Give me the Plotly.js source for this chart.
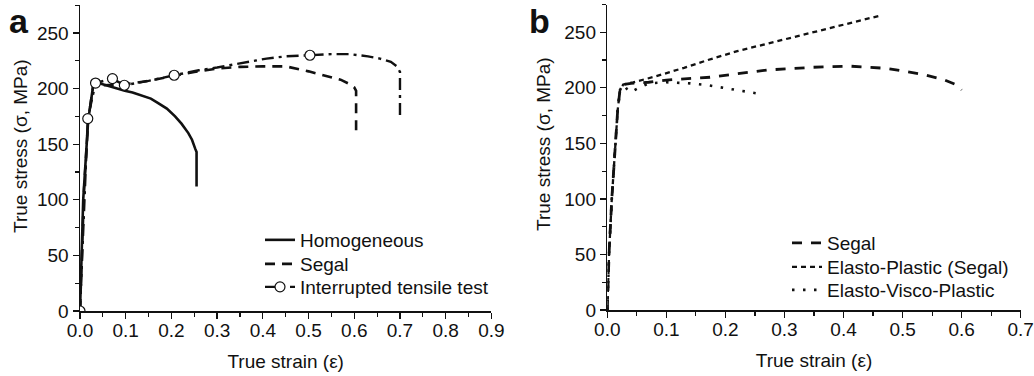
<!DOCTYPE html>
<html><head><meta charset="utf-8">
<script src="https://cdn.plot.ly/plotly-3.0.1.min.js"></script>
<style>html,body{margin:0;padding:0;background:#fff}#chart{width:1034px;height:376px}</style>
</head><body><div id="chart"></div>
<script>
// ---------- Panel a ----------
const homogStrain = [0, 0.007, 0.018, 0.029, 0.033, 0.05, 0.062, 0.08, 0.098, 0.115, 0.135, 0.155, 0.171, 0.19, 0.208, 0.222, 0.237, 0.245, 0.252, 0.255, 0.255];
const homogStress = [0, 100, 172, 203, 206, 204, 202, 200, 198, 196.5, 194, 191, 187, 182, 175, 168.5, 160, 154, 146, 143, 112];

const segalAStrain = [0, 0.009, 0.018, 0.029, 0.034, 0.05, 0.1, 0.15, 0.2, 0.25, 0.3, 0.35, 0.4, 0.45, 0.5, 0.54, 0.57, 0.59, 0.6, 0.604, 0.604];
const segalAStress = [0, 110, 172, 203, 205, 203, 204, 207, 211, 215, 218, 219.5, 220, 220, 215.5, 211, 208, 204, 201, 198, 158];

// interrupted tensile test: curve (dash-dot) and measured points (circles)
const interCurveStrain = [0.15, 0.26, 0.3, 0.35, 0.408, 0.45, 0.55, 0.59, 0.63, 0.656, 0.68, 0.693, 0.70, 0.70];
const interCurveStress = [207, 216.5, 219, 223, 227, 229, 231, 231, 229, 227, 224, 220, 215, 172];
const interPointStrain = [0, 0.017, 0.034, 0.071, 0.097, 0.206, 0.503];
const interPointStress = [0, 173, 205, 209, 203, 212, 230];

// ---------- Panel b ----------
const segalBStrain = [0, 0.003, 0.0075, 0.014, 0.0176, 0.0215, 0.027, 0.04, 0.07, 0.1, 0.174, 0.27, 0.349, 0.411, 0.473, 0.535, 0.569, 0.59, 0.6];
const segalBStress = [0, 51, 99, 150, 180, 198, 203, 204, 205, 207, 209.5, 216, 218.5, 219.5, 217.5, 212, 207.5, 203, 198];

const epStrain = [0, 0.003, 0.0075, 0.014, 0.0176, 0.0215, 0.027, 0.044, 0.08, 0.13, 0.17, 0.22, 0.28, 0.36, 0.462];
const epStress = [0, 51, 99, 150, 180, 198, 203, 205, 210, 218, 225, 233, 241, 252, 265];

const evpStrain = [0, 0.003, 0.0075, 0.014, 0.0176, 0.0215, 0.027, 0.033, 0.04, 0.05, 0.07, 0.1, 0.14, 0.168, 0.213, 0.259];
const evpStress = [0, 51, 99, 150, 180, 198, 203, 199, 196, 199, 204, 205, 204, 202.5, 198.5, 194.5];

const xTicksA = [0, 0.1, 0.2, 0.3, 0.4, 0.5, 0.6, 0.7, 0.8, 0.9];
const xTicksB = [0, 0.1, 0.2, 0.3, 0.4, 0.5, 0.6, 0.7];
const yTicks = [0, 50, 100, 150, 200, 250];

// merge interrupted test curve and measured points, ordered by strain
const inter = interPointStrain.map((x, i) => ({x, y: interPointStress[i], m: true}))
  .concat(interCurveStrain.map((x, i) => ({x, y: interCurveStress[i], m: false})))
  .sort((a, b) => a.x - b.x);

const W = 1034, H = 376;
const FONT = '"Liberation Sans", Arial, Helvetica, sans-serif';
const FS = 19;
const INK = '#111';
const px = v => v / W, py = v => 1 - v / H;

const traces = [
  {x: homogStrain, y: homogStress, mode: 'lines', name: 'Homogeneous', xaxis: 'x', yaxis: 'y', legend: 'legend',
   line: {color: INK, width: 2.6}},
  {x: segalAStrain, y: segalAStress, mode: 'lines', name: 'Segal', xaxis: 'x', yaxis: 'y', legend: 'legend2',
   line: {color: INK, width: 2.6, dash: '10px,7px'}},
  {x: inter.map(p => p.x), y: inter.map(p => p.y), mode: 'lines+markers', name: 'Interrupted tensile test',
   xaxis: 'x', yaxis: 'y', legend: 'legend3',
   line: {color: INK, width: 2.4, dash: '12px,5px,3px,5px'},
   marker: {symbol: 'circle', size: 10,
            color: inter.map(p => p.m ? '#fff' : 'rgba(0,0,0,0)'),
            line: {width: 1.2, color: inter.map(p => p.m ? INK : 'rgba(0,0,0,0)')}}},
  {x: segalBStrain, y: segalBStress, mode: 'lines', name: 'Segal', xaxis: 'x2', yaxis: 'y2', legend: 'legend4',
   line: {color: INK, width: 2.8, dash: '10px,9px'}},
  {x: epStrain, y: epStress, mode: 'lines', name: 'Elasto-Plastic (Segal)', xaxis: 'x2', yaxis: 'y2', legend: 'legend5',
   line: {color: INK, width: 2.3, dash: '5px,4px'}},
  {x: evpStrain, y: evpStress, mode: 'lines', name: 'Elasto-Visco-Plastic', xaxis: 'x2', yaxis: 'y2', legend: 'legend6',
   line: {color: INK, width: 2.6, dash: '2.5px,8.5px'}}
];

const tf = {family: FONT, size: FS, color: INK};
const axisCommon = {
  showline: true, linecolor: INK, linewidth: 1.5, showgrid: false, zeroline: false,
  ticks: 'outside', ticklen: 6, tickwidth: 1.3, tickcolor: INK,
  tickfont: tf, automargin: false, fixedrange: true
};
const xCommon = Object.assign({}, axisCommon, {
  tickformat: '.1f', ticklabelstandoff: -4,
  minor: {dtick: 0.05, ticks: 'outside', ticklen: 4, tickwidth: 1.2, tickcolor: INK},
  title: {text: 'True strain (\u03b5)', font: tf, standoff: 14}
});
const yCommon = Object.assign({}, axisCommon, {
  range: [0, 275], tickvals: yTicks,
  minor: {dtick: 25, ticks: 'outside', ticklen: 4, tickwidth: 1.2, tickcolor: INK}
});

const leg = (xp, yp) => ({font: tf, bgcolor: 'rgba(0,0,0,0)', borderwidth: 0,
  xanchor: 'left', yanchor: 'middle', x: px(xp), y: py(yp)});

const layout = {
  width: W, height: H, paper_bgcolor: '#fff', plot_bgcolor: '#fff',
  margin: {l: 0, r: 0, t: 0, b: 0},
  font: {family: FONT, color: INK},
  xaxis: Object.assign({}, xCommon, {domain: [px(80), px(491.4)], range: [0, 0.9], tickvals: xTicksA, anchor: 'y'}),
  yaxis: Object.assign({}, yCommon, {domain: [py(311), py(5.2)], anchor: 'x'}),
  xaxis2: Object.assign({}, xCommon, {domain: [px(607.3), px(1020.7)], range: [0, 0.7], tickvals: xTicksB, anchor: 'y2'}),
  yaxis2: Object.assign({}, yCommon, {domain: [py(310), py(4.5)], anchor: 'x2'}),
  legend: leg(260, 240), legend2: leg(260, 264), legend3: leg(260, 287),
  legend4: leg(787, 243), legend5: leg(787, 267), legend6: leg(787, 290),
  showlegend: true,
  annotations: [
    {text: '<b>a</b>', xref: 'paper', yref: 'paper', x: px(7), y: py(0), xanchor: 'left', yanchor: 'top',
     showarrow: false, font: {family: FONT, size: 34, color: INK}},
    {text: '<b>b</b>', xref: 'paper', yref: 'paper', x: px(527), y: py(0), xanchor: 'left', yanchor: 'top',
     showarrow: false, font: {family: FONT, size: 34, color: INK}},
    {text: 'True stress (\u03c3, MPa)', xref: 'paper', yref: 'paper', x: px(20), y: py(146), xanchor: 'center', yanchor: 'middle',
     textangle: -90, showarrow: false, font: tf},
    {text: 'True stress (\u03c3, MPa)', xref: 'paper', yref: 'paper', x: px(543), y: py(144), xanchor: 'center', yanchor: 'middle',
     textangle: -90, showarrow: false, font: tf}
  ]
};

Plotly.newPlot('chart', traces, layout, {displayModeBar: false, staticPlot: true});
</script></body></html>
